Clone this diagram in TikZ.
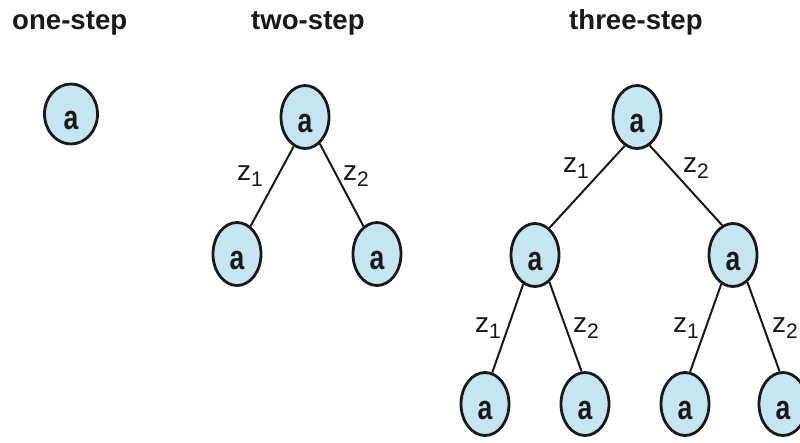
\documentclass[tikz,border=0pt]{standalone}
\usepackage{fontspec}
\usepackage{graphicx}
\setmainfont{Liberation Sans}
\usetikzlibrary{shapes.geometric}
\definecolor{nodefill}{RGB}{198,229,243}
\definecolor{inkc}{RGB}{25,25,25}
\newcommand\zlab[1]{{\fontsize{28}{28}\selectfont z}\raisebox{-6pt}{\fontsize{21}{21}\selectfont #1}}
\newcommand\alab{\scalebox{0.78}[1]{a}}
\begin{document}
\begin{tikzpicture}[x=1pt,y=-1pt,
  st/.style={ellipse, draw=inkc, line width=2.8pt, fill=nodefill,
    minimum width=48pt, minimum height=63pt, inner sep=0pt,
    font=\fontsize{34}{34}\bfseries\selectfont, text=inkc,
    text height=30pt, text depth=0pt},
  edge/.style={draw=inkc, line width=2pt},
  ttl/.style={anchor=base west, inner sep=0pt, text=inkc,
    font=\fontsize{27.6}{28}\bfseries\selectfont},
  zl/.style={anchor=base west, inner sep=0pt, text=inkc}]
\useasboundingbox (0,0) rectangle (800,442);
% titles
\node[ttl] (t1) at (12,29) {one-step};
\node[ttl] (t2) at (251,29) {two-step};
\node[ttl] (t3) at (569,29) {three-step};
% one-step
\node[st, minimum width=53pt, minimum height=60pt] (O) at (71,114) {\alab};
% two-step
\node[st] (T2) at (305,117) {\alab};
\node[st] (L2) at (237,254) {\alab};
\node[st] (R2) at (377,254) {\alab};
% three-step
\node[st] (T3) at (637,117) {\alab};
\node[st] (ML) at (535,255) {\alab};
\node[st] (MR) at (733,255) {\alab};
\node[st] (B1) at (485,404) {\alab};
\node[st] (B2) at (585,404) {\alab};
\node[st] (B3) at (685,404) {\alab};
\node[st] (B4) at (783,404) {\alab};
% edges
\draw[edge] (T2.249) -- (L2.64);
\draw[edge] (T2.299) -- (R2.116);
\draw[edge] (T3.247) -- (ML.62);
\draw[edge] (T3.294) -- (MR.110);
\draw[edge] (ML.248) -- (B1.77);
\draw[edge] (ML.298) -- (B2.96);
\draw[edge] (MR.248) -- (B3.81);
\draw[edge] (MR.298) -- (B4.96);
% labels
\node[zl] (z21) at (237,180) {\zlab{1}};
\node[zl] (z22) at (343,180) {\zlab{2}};
\node[zl] (z31) at (563,172) {\zlab{1}};
\node[zl] (z32) at (683,172) {\zlab{2}};
\node[zl] (z41) at (475,332) {\zlab{1}};
\node[zl] (z42) at (573,332) {\zlab{2}};
\node[zl] (z43) at (673,332) {\zlab{1}};
\node[zl] (z44) at (772,332) {\zlab{2}};
\end{tikzpicture}
\end{document}
